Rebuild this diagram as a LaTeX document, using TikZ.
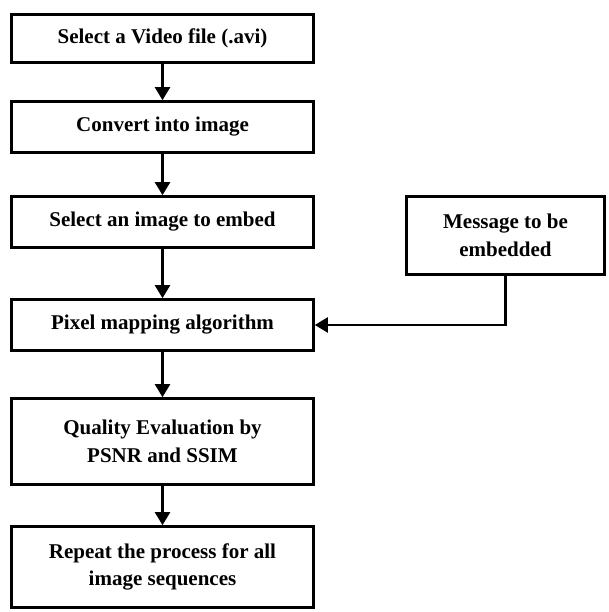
\documentclass[tikz,border=0pt]{standalone}
\usepackage{fontspec}
\setmainfont{Liberation Serif}
\usetikzlibrary{arrows.meta}
\begin{document}
\begin{tikzpicture}[x=1pt,y=1pt,
  box/.style={draw=black, line width=2.6pt, fill=white, align=center,
    font=\bfseries\fontsize{21}{27.5}\selectfont, inner sep=0pt,
    minimum width=302pt},
  msgbox/.style={box, minimum width=198pt, minimum height=78pt},
  flow/.style={line width=2.2pt, -{Triangle[length=13pt,width=15pt]}}]
\useasboundingbox (0,0) rectangle (608,612);
\node[box, minimum height=48pt] (b1) at (162.5,573.6) {Select a Video file (.avi)};
\node[box, minimum height=51pt] (b2) at (162.5,485) {Convert into image};
\node[box, minimum height=51pt] (b3) at (162.5,390) {Select an image to embed};
\node[box, minimum height=51pt] (b4) at (162.5,287) {Pixel mapping algorithm};
\node[box, minimum height=86pt] (b5) at (162.5,170.5) {Quality Evaluation by\\PSNR and SSIM};
\node[box, minimum height=81pt] (b6) at (162.5,45) {Repeat the process for all\\image sequences};
\node[msgbox] (m) at (505.5,376.5) {Message to be\\embedded};
\draw[flow] (b1) -- (b2);
\draw[flow] (b2) -- (b3);
\draw[flow] (b3) -- (b4);
\draw[flow] (b4) -- (b5);
\draw[flow] (b5) -- (b6);
\draw[flow] (m.south) |- (b4.east);
\end{tikzpicture}
\end{document}
